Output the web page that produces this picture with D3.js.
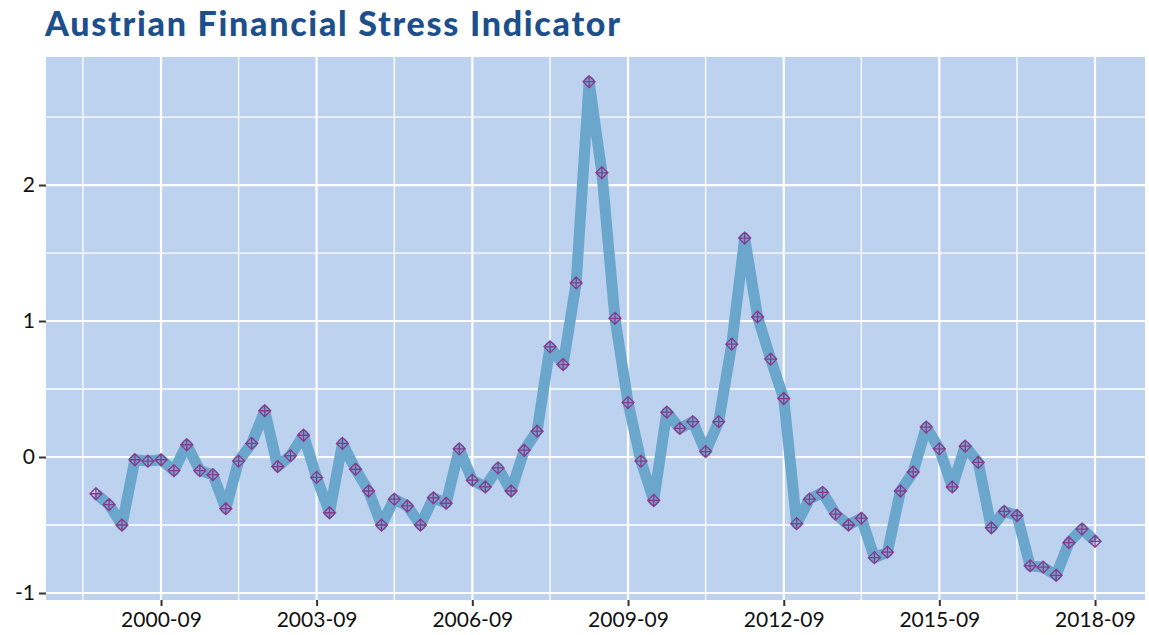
<!DOCTYPE html>
<html>
<head>
<meta charset="utf-8">
<script src="https://cdn.jsdelivr.net/npm/d3@7"></script>
<style>
  body { margin: 0; background: #fff; }
  .chart text { font-family: Lato, "DejaVu Sans", sans-serif; }
  .axis .domain { display: none; }
  .axis line { stroke: #333; stroke-width: 2px; }
  .axis text { fill: #111; font-size: 21px; }
  .title { fill: #1c4f8c; font-size: 34px; font-weight: 900; }
</style>
</head>
<body>
<svg class="chart"></svg>
<script>
// quarterly observations
var dates = ["1999-06","1999-09","1999-12","2000-03","2000-06","2000-09","2000-12","2001-03","2001-06","2001-09",
             "2001-12","2002-03","2002-06","2002-09","2002-12","2003-03","2003-06","2003-09","2003-12","2004-03",
             "2004-06","2004-09","2004-12","2005-03","2005-06","2005-09","2005-12","2006-03","2006-06","2006-09",
             "2006-12","2007-03","2007-06","2007-09","2007-12","2008-03","2008-06","2008-09","2008-12","2009-03",
             "2009-06","2009-09","2009-12","2010-03","2010-06","2010-09","2010-12","2011-03","2011-06","2011-09",
             "2011-12","2012-03","2012-06","2012-09","2012-12","2013-03","2013-06","2013-09","2013-12","2014-03",
             "2014-06","2014-09","2014-12","2015-03","2015-06","2015-09","2015-12","2016-03","2016-06","2016-09",
             "2016-12","2017-03","2017-06","2017-09","2017-12","2018-03","2018-06","2018-09"];

var stress = [-0.27,-0.35,-0.50,-0.02,-0.03,-0.02,-0.10, 0.09,-0.10,-0.13,
              -0.38,-0.03, 0.10, 0.34,-0.07, 0.01, 0.16,-0.15,-0.41, 0.10,
              -0.09,-0.25,-0.50,-0.31,-0.36,-0.50,-0.30,-0.34, 0.06,-0.17,
              -0.22,-0.08,-0.25, 0.05, 0.19, 0.81, 0.68, 1.28, 2.76, 2.09,
               1.02, 0.40,-0.03,-0.32, 0.33, 0.21, 0.26, 0.04, 0.26, 0.83,
               1.61, 1.03, 0.72, 0.43,-0.49,-0.31,-0.26,-0.42,-0.50,-0.45,
              -0.74,-0.70,-0.25,-0.11, 0.22, 0.06,-0.22, 0.08,-0.04,-0.52,
              -0.40,-0.43,-0.80,-0.81,-0.87,-0.63,-0.53,-0.62];

var xTicks = ["2000-09","2003-09","2006-09","2009-09","2012-09","2015-09","2018-09"];
var xMinor = ["1999-03","2002-03","2005-03","2008-03","2011-03","2014-03","2017-03"];
var yTicks = [-1, 0, 1, 2];
var yMinor = [-0.5, 0.5, 1.5, 2.5];

var W = 1149, H = 635;
var panel = { left: 46, right: 1145, top: 57, bottom: 600 };

var parseMonth = d3.timeParse("%Y-%m");
var data = dates.map(function(d, i) { return { date: parseMonth(d), value: stress[i] }; });

// ggplot style 5% expansion
var xExt = d3.extent(data, function(d) { return d.date; }),
    xPad = (xExt[1] - xExt[0]) * 0.05;
var yExt = d3.extent(data, function(d) { return d.value; }),
    yPad = (yExt[1] - yExt[0]) * 0.05;

var x = d3.scaleTime()
    .domain([new Date(+xExt[0] - xPad), new Date(+xExt[1] + xPad)])
    .range([panel.left, panel.right]);

var y = d3.scaleLinear()
    .domain([yExt[0] - yPad, yExt[1] + yPad])
    .range([panel.bottom, panel.top]);

var svg = d3.select(".chart")
    .attr("width", W)
    .attr("height", H);

svg.append("rect")
    .attr("x", panel.left)
    .attr("y", panel.top)
    .attr("width", panel.right - panel.left)
    .attr("height", panel.bottom - panel.top)
    .attr("fill", "#bdd2ee");

var grid = svg.append("g").attr("class", "grid");

grid.selectAll(".hminor")
    .data(yMinor)
  .enter().append("line")
    .attr("x1", panel.left).attr("x2", panel.right)
    .attr("y1", function(d) { return y(d); })
    .attr("y2", function(d) { return y(d); })
    .attr("stroke", "#fff").attr("stroke-width", 1.3);

grid.selectAll(".vminor")
    .data(xMinor)
  .enter().append("line")
    .attr("y1", panel.top).attr("y2", panel.bottom)
    .attr("x1", function(d) { return x(parseMonth(d)); })
    .attr("x2", function(d) { return x(parseMonth(d)); })
    .attr("stroke", "#fff").attr("stroke-width", 1.3);

grid.selectAll(".hmajor")
    .data(yTicks)
  .enter().append("line")
    .attr("x1", panel.left).attr("x2", panel.right)
    .attr("y1", function(d) { return y(d); })
    .attr("y2", function(d) { return y(d); })
    .attr("stroke", "#fff").attr("stroke-width", 2.2);

grid.selectAll(".vmajor")
    .data(xTicks)
  .enter().append("line")
    .attr("y1", panel.top).attr("y2", panel.bottom)
    .attr("x1", function(d) { return x(parseMonth(d)); })
    .attr("x2", function(d) { return x(parseMonth(d)); })
    .attr("stroke", "#fff").attr("stroke-width", 2.2);

var line = d3.line()
    .x(function(d) { return x(d.date); })
    .y(function(d) { return y(d.value); });

svg.append("path")
    .datum(data)
    .attr("d", line)
    .attr("fill", "none")
    .attr("stroke", "#6ba6cd")
    .attr("stroke-width", 11)
    .attr("stroke-linejoin", "round")
    .attr("stroke-linecap", "butt");

// diamond with a plus inside
var r = 6;
var marker = "M0," + (-r) + "L" + r + ",0L0," + r + "L" + (-r) + ",0Z" +
             "M0," + (-r) + "V" + r + "M" + (-r) + ",0H" + r;

svg.selectAll(".pt")
    .data(data)
  .enter().append("path")
    .attr("class", "pt")
    .attr("transform", function(d) { return "translate(" + x(d.date) + "," + y(d.value) + ")"; })
    .attr("d", marker)
    .attr("fill", "none")
    .attr("stroke", "#8a3a8c")
    .attr("stroke-width", 1.3);

svg.append("g")
    .attr("class", "x axis")
    .attr("transform", "translate(0," + panel.bottom + ")")
    .call(d3.axisBottom(x)
      .tickValues(xTicks.map(parseMonth))
      .tickFormat(d3.timeFormat("%Y-%m"))
      .tickSize(6)
      .tickPadding(6));

svg.append("g")
    .attr("class", "y axis")
    .attr("transform", "translate(" + panel.left + ",0)")
    .call(d3.axisLeft(y)
      .tickValues(yTicks)
      .tickFormat(function(d) { return String(d); })
      .tickSize(7)
      .tickPadding(4));

svg.append("text")
    .attr("class", "title")
    .attr("x", 45)
    .attr("y", 36)
    .attr("textLength", 575)
    .attr("lengthAdjust", "spacing")
    .text("Austrian Financial Stress Indicator");
</script>
</body>
</html>
